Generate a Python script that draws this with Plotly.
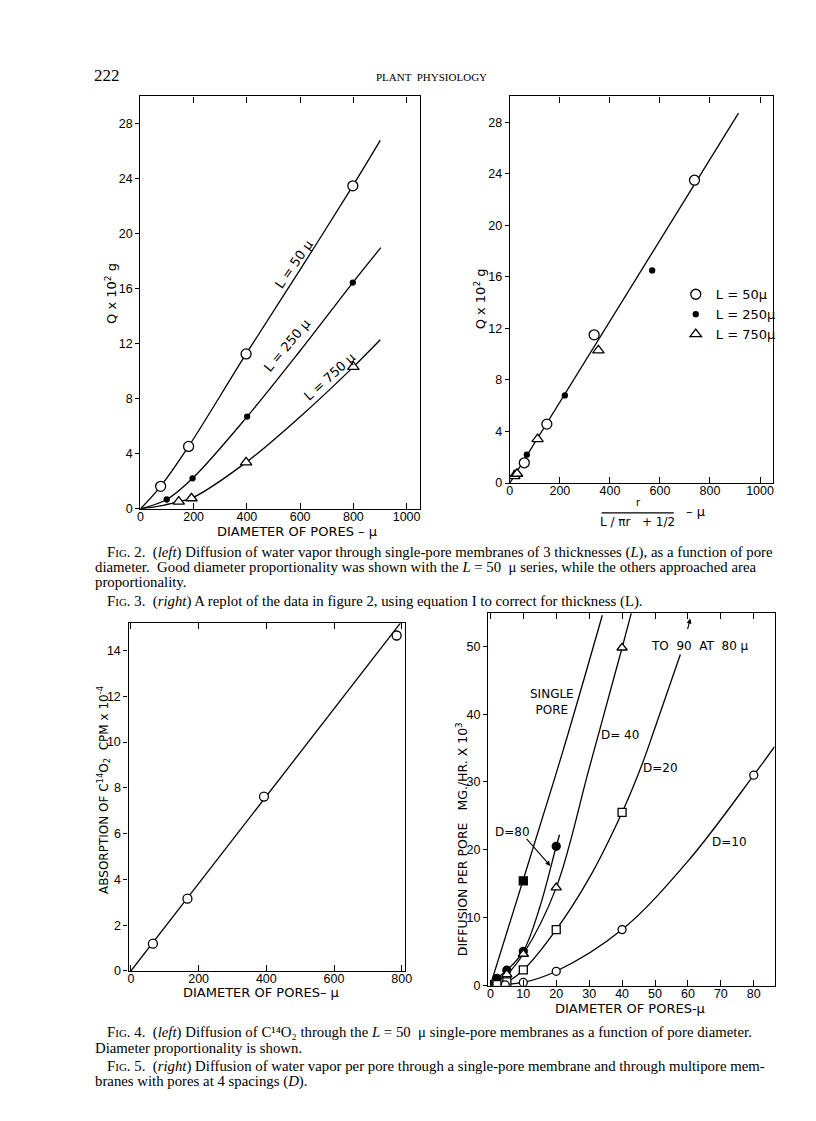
import plotly.graph_objects as go

W, H = 816, 1121


def fx(p):
    return p / W


def fy(p):
    return 1 - p / H


# ---- Fig. 2: Q vs pore diameter for three membrane thicknesses
f2_l50_x = [76, 181, 397, 798]
f2_l50_y = [1.64, 4.54, 11.27, 23.5]
f2_l250_x = [99, 196, 401, 798]
f2_l250_y = [0.68, 2.22, 6.71, 16.46]
f2_l750_x = [144, 192, 397, 800]
f2_l750_y = [0.53, 0.77, 3.38, 10.33]
# hand-drawn curves
f2_c50_x = [0, 76, 181, 397, 600, 798, 901]
f2_c50_y = [0, 1.64, 4.54, 11.27, 17.4, 23.5, 26.8]
f2_c250_x = [0, 99, 196, 401, 600, 798, 903]
f2_c250_y = [0, 0.68, 2.22, 6.71, 11.5, 16.46, 19.0]
f2_c750_x = [0, 75, 144, 192, 397, 600, 800, 901]
f2_c750_y = [0, 0.22, 0.53, 0.77, 3.38, 6.7, 10.33, 12.3]

# ---- Fig. 3: replot against r / (L/pi r + 1/2)
f3_l50_x = [58, 148, 337, 738]
f3_l50_y = [1.57, 4.57, 11.5, 23.5]
f3_l250_x = [24, 68, 220, 569]
f3_l250_y = [0.8, 2.2, 6.8, 16.5]
f3_l750_x = [18, 29, 111, 354]
f3_l750_y = [0.54, 0.72, 3.41, 10.3]
f3_fit_x = [0, 914]
f3_fit_y = [0, 28.7]

# ---- Fig. 4: C14O2 absorption vs pore diameter
f4_x = [65, 167, 393, 785]
f4_y = [1.19, 3.16, 7.62, 14.66]
f4_fit_x = [0, 796]
f4_fit_y = [0, 15.2]

# ---- Fig. 5: diffusion per pore, single pore and 4 spacings D
f5_single_x = [10]
f5_single_y = [15.4]
f5_single_cx = [0, 10, 22, 34]
f5_single_cy = [0, 15.6, 34.5, 54.6]
f5_d80_x = [2, 5, 10, 20]
f5_d80_y = [1.0, 2.2, 5.0, 20.5]
f5_d80_cx = [0, 2, 5, 10, 15, 20, 21]
f5_d80_cy = [0, 1.0, 2.2, 5.0, 11.5, 20.5, 22.2]
f5_d40_x = [5, 10, 20, 40]
f5_d40_y = [1.6, 4.6, 14.4, 49.8]
f5_d40_cx = [0, 5, 10, 20, 30, 40, 42.8]
f5_d40_cy = [0, 1.6, 4.6, 14.4, 32.0, 49.8, 54.9]
f5_d20_x = [2, 5, 10, 20, 40]
f5_d20_y = [0.1, 0.5, 2.25, 8.2, 25.5]
f5_d20_cx = [0, 5, 10, 20, 30, 40, 46, 50, 57.7]
f5_d20_cy = [0, 0.5, 2.25, 8.2, 15.8, 25.5, 32.5, 38.0, 48.8]
f5_d10_x = [4.5, 10, 20, 40, 80]
f5_d10_y = [0.05, 0.4, 2.05, 8.2, 31.0]
f5_d10_cx = [0, 10, 20, 40, 60, 80, 86.3]
f5_d10_cy = [0, 0.4, 2.05, 8.2, 18.3, 31.0, 35.2]

INK = "black"
TICKFONT = dict(family="Liberation Sans", size=12.5, color=INK)
SERIF = "Liberation Serif"

fig = go.Figure()


def line(x, y, ax, width=1.3):
    fig.add_trace(go.Scatter(x=x, y=y, mode="lines", line=dict(color=INK, width=width, shape="spline"),
                             xaxis=f"x{ax}", yaxis=f"y{ax}", showlegend=False, hoverinfo="skip"))


def pts(x, y, ax, symbol, size, fill="white", name=None, legend=False):
    fig.add_trace(go.Scatter(x=x, y=y, mode="markers", name=name, showlegend=legend,
                             marker=dict(symbol=symbol, size=size, color=fill, line=dict(color=INK, width=1.3)),
                             xaxis=f"x{ax}", yaxis=f"y{ax}"))


# Fig 2
line(f2_c50_x, f2_c50_y, "")
line(f2_c250_x, f2_c250_y, "")
line(f2_c750_x, f2_c750_y, "")
pts(f2_l50_x, f2_l50_y, "", "circle", 10)
pts(f2_l250_x, f2_l250_y, "", "circle", 5, fill=INK)
pts(f2_l750_x, f2_l750_y, "", "triangle-up", 10)

# Fig 3
line(f3_fit_x, f3_fit_y, 2)
pts(f3_l50_x, f3_l50_y, 2, "circle", 10, name="L = 50\u03bc", legend=True)
pts(f3_l250_x, f3_l250_y, 2, "circle", 5, fill=INK, name="L = 250\u03bc", legend=True)
pts(f3_l750_x, f3_l750_y, 2, "triangle-up", 10, name="L = 750\u03bc", legend=True)

# Fig 4
line(f4_fit_x, f4_fit_y, 3)
pts(f4_x, f4_y, 3, "circle", 9)

# Fig 5
line(f5_single_cx, f5_single_cy, 4)
line(f5_d80_cx, f5_d80_cy, 4)
line(f5_d40_cx, f5_d40_cy, 4)
line(f5_d20_cx, f5_d20_cy, 4)
line(f5_d10_cx, f5_d10_cy, 4)
pts(f5_single_x, f5_single_y, 4, "square", 8, fill=INK)
pts(f5_d80_x, f5_d80_y, 4, "circle", 8, fill=INK)
pts(f5_d40_x, f5_d40_y, 4, "triangle-up", 9)
pts(f5_d20_x, f5_d20_y, 4, "square", 8)
pts(f5_d10_x, f5_d10_y, 4, "circle", 8)


# axes: box frame, ticks out on the left, in on the other three sides
panels = [
    # suffix, x px domain, y px domain (top, bottom), x range, y range, x ticks, y ticks
    ("", (131, 414), (89, 504), [0, 1050], [0, 30], list(range(0, 1001, 200)), list(range(0, 29, 4))),
    ("2", (505, 771), (89, 478), [0, 1050], [0, 30], list(range(0, 1001, 200)), list(range(0, 29, 4))),
    ("3", (119, 399), (619, 969), [-7, 810], [0, 15.2], list(range(0, 801, 200)), list(range(0, 15, 2))),
    ("4", (483, 773), (609, 984), [-0.7, 86.3], [-0.1, 54.9], list(range(0, 81, 10)), list(range(0, 51, 10))),
]
layout_axes = {}
for i, (s, xd, yd, xr, yr, xt, yt) in enumerate(panels):
    layout_axes["xaxis" + s] = dict(domain=[fx(xd[0]), fx(xd[1])], range=xr, anchor="y" + s,
                                    tickvals=xt, ticks="inside", ticklen=6, tickwidth=1.2, tickcolor=INK,
                                    showline=True, linecolor=INK, linewidth=1.4, mirror="ticks",
                                    showgrid=False, zeroline=False, tickfont=TICKFONT, ticklabelstandoff=-4)
    layout_axes["yaxis" + s] = dict(domain=[fy(yd[1]), fy(yd[0])], range=yr, anchor="x" + s,
                                    tickvals=yt, ticks="outside", ticklen=4, tickwidth=1.2, tickcolor=INK,
                                    showline=True, linecolor=INK, linewidth=1.4, mirror=True,
                                    showgrid=False, zeroline=False, tickfont=TICKFONT)
    layout_axes["yaxis" + str(5 + i)] = dict(overlaying="y" + s, side="right", anchor="x" + s, range=yr,
                                             tickvals=yt[1:], ticks="inside", ticklen=6, tickwidth=1.2,
                                             tickcolor=INK, showticklabels=False, showline=False,
                                             showgrid=False, zeroline=False)

ann = []


def txt(text, x, y, size=13, family="DejaVu Sans", angle=0, xanchor="center", xref="paper", yref="paper"):
    if xref == "paper":
        x, y = fx(x), fy(y)
    ann.append(dict(text=text, x=x, y=y, xref=xref, yref=yref, showarrow=False, textangle=angle,
                    xanchor=xanchor, yanchor="middle", font=dict(family=family, size=size, color=INK)))


# page header
txt("222", 97, 68, size=17, family=SERIF)
txt("PLANT  PHYSIOLOGY", 426, 69, size=11, family=SERIF)

# Fig 2 titles and curve labels
txt("Q x 10<sup>2</sup> g", 101, 287, angle=-90)
txt("DIAMETER OF PORES \u2013 \u03bc", 290, 527)
txt("L = 50 \u03bc", 575, 17.8, angle=-55, xref="x", yref="y")
txt("L = 250 \u03bc", 550, 11.9, angle=-50, xref="x", yref="y")
txt("L = 750 \u03bc", 712, 9.6, angle=-42, xref="x", yref="y")

# Fig 3 titles (fraction drawn as text + rule)
txt("Q x 10<sup>2</sup> g", 475, 293, angle=-90)
txt("r", 635, 498, size=10)
txt("L / \u03c0r   + 1/2", 634, 517, size=12)
txt("\u2013 \u03bc", 693, 507)

# Fig 4 titles
txt("ABSORPTION OF C<sup>14</sup>O<sub>2</sub>  CPM x 10<sup>-4</sup>", 94, 787, size=12, angle=-90)
txt("DIAMETER OF PORES\u2013 \u03bc", 253, 991)

# Fig 5 titles and labels
txt("DIFFUSION PER PORE   MG./HR. X 10<sup>3</sup>", 456, 836, size=12.5, angle=-90)
txt("DIAMETER OF PORES-\u03bc", 627, 1007)
txt("SINGLE<br>PORE", 18.8, 41.8, size=12, xref="x4", yref="y4")
txt("D= 40", 39.4, 36.9, size=12, xref="x4", yref="y4")
txt("D=20", 51.6, 32.0, size=12, xref="x4", yref="y4")
txt("D=10", 72.6, 21.1, size=12, xref="x4", yref="y4")
txt("D=80", 6.6, 22.6, size=12, xref="x4", yref="y4")
txt("TO  90  AT  80 \u03bc", 63.6, 50.1, size=12, xref="x4", yref="y4")
ann.append(dict(x=18.2, y=17.6, ax=10.6, ay=21.8, xref="x4", yref="y4", axref="x4", ayref="y4",
                text="", showarrow=True, arrowhead=2, arrowsize=0.9, arrowwidth=1.1, arrowcolor=INK))
ann.append(dict(x=60.7, y=54.1, ax=-3, ay=12, xref="x4", yref="y4",
                text="", showarrow=True, arrowhead=2, arrowsize=0.9, arrowwidth=1.1, arrowcolor=INK))

# captions
SC = "<span style='font-size:11px'>IG</span>"
cap = [
    (95, 548, f"F{SC}. 2.  (<i>left</i>) Diffusion of water vapor through single-pore membranes of 3 thicknesses (<i>L</i>), as a function of pore"),
    (83, 563, "diameter.  Good diameter proportionality was shown with the <i>L</i> = 50  \u03bc series, while the others approached area"),
    (83, 578, "proportionality."),
    (95, 597, f"F{SC}. 3.  (<i>right</i>) A replot of the data in figure 2, using equation I to correct for thickness (L)."),
    (95, 1031, f"F{SC}. 4.  (<i>left</i>) Diffusion of C\u00b9\u2074O\u2082 through the <i>L</i> = 50  \u03bc single-pore membranes as a function of pore diameter."),
    (83, 1047, "Diameter proportionality is shown."),
    (95, 1065, f"F{SC}. 5.  (<i>right</i>) Diffusion of water vapor per pore through a single-pore membrane and through multipore mem-"),
    (83, 1080, "branes with pores at 4 spacings (<i>D</i>)."),
]
for x, y, t in cap:
    txt(t, x, y, size=14.8, family=SERIF, xanchor="left")

fig.update_layout(
    width=W, height=H,
    margin=dict(l=0, r=0, t=0, b=0),
    paper_bgcolor="white", plot_bgcolor="white",
    showlegend=True,
    legend=dict(x=fx(673), y=fy(273), xanchor="left", yanchor="top", bgcolor="rgba(0,0,0,0)",
                font=dict(family="DejaVu Sans", size=13, color=INK), itemwidth=30, tracegroupgap=0),
    annotations=ann,
    shapes=[dict(type="line", xref="paper", yref="paper", x0=fx(598), x1=fx(671), y0=fy(508), y1=fy(508),
                 line=dict(color=INK, width=1.2))],
    **layout_axes,
)

fig.write_html("out.html")
